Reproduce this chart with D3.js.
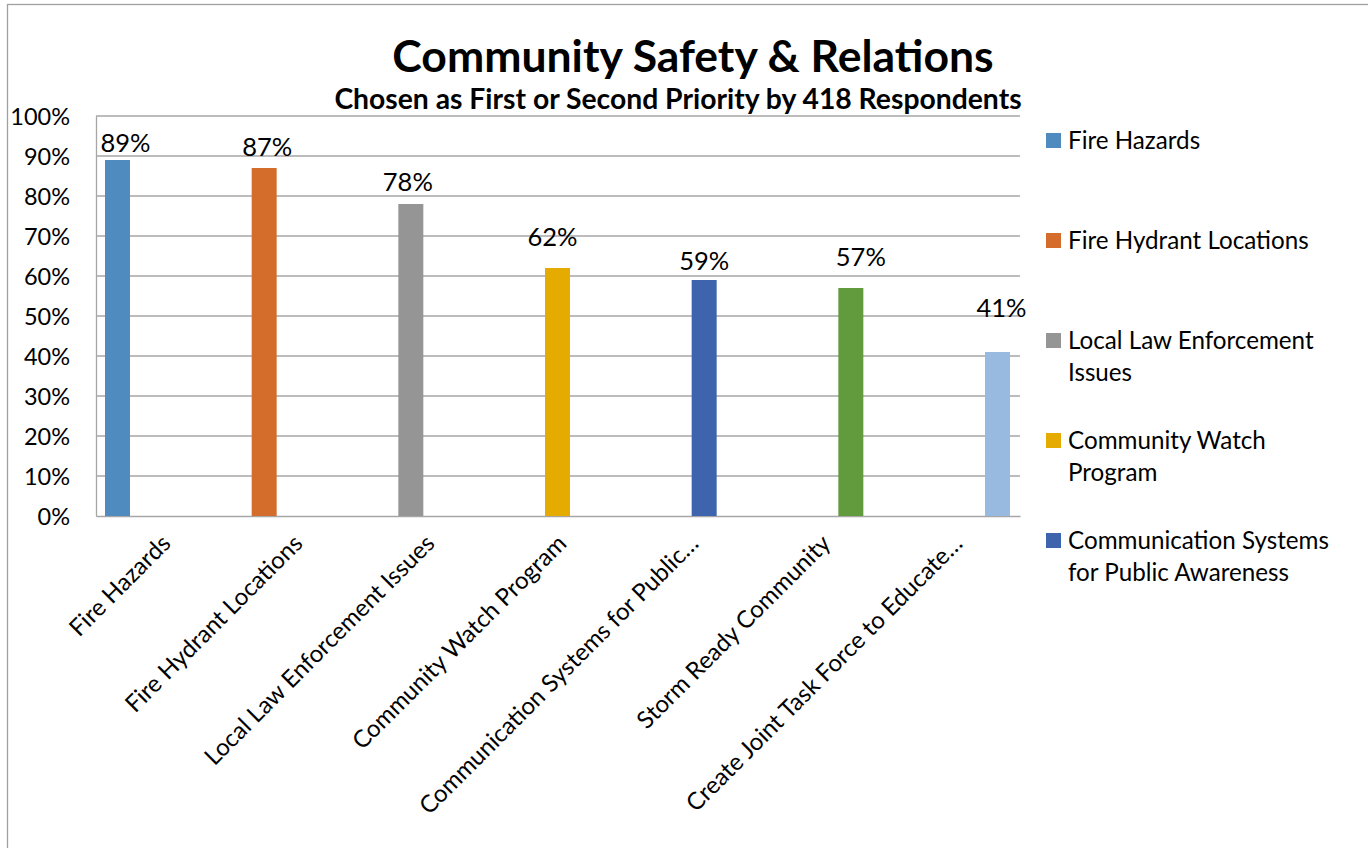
<!DOCTYPE html>
<head>
    <script src="https://d3js.org/d3.v7.min.js"></script>
    <style>
      body { margin: 0; background: #fff; }
      text { font-family: Lato, "Open Sans", sans-serif; fill: #000; }
    </style>
</head>

<body>
    <div id="chart"></div>
</body>

<script>

  // categories / series (each category carries one series)
  const categories = ["Fire Hazards", "Fire Hydrant Locations", "Local Law Enforcement Issues",
    "Community Watch Program", "Communication Systems for Public Awareness",
    "Storm Ready Community", "Create Joint Task Force to Educate"];
  const tickLabels = ["Fire Hazards", "Fire Hydrant Locations", "Local Law Enforcement Issues",
    "Community Watch Program", "Communication Systems for Public…",
    "Storm Ready Community", "Create Joint Task Force to Educate…"];
  const values = [0.89, 0.87, 0.78, 0.62, 0.59, 0.57, 0.41];
  const legendLabels = [["Fire Hazards"], ["Fire Hydrant Locations"], ["Local Law Enforcement", "Issues"],
    ["Community Watch", "Program"], ["Communication Systems", "for Public Awareness"]];
  const yTicks = [0, 0.1, 0.2, 0.3, 0.4, 0.5, 0.6, 0.7, 0.8, 0.9, 1.0];

  const colors = ["#4f8bbf", "#d46d2b", "#959595", "#e5ab00", "#3d64ad", "#629a3e", "#98b9e0"];
  // the value labels were nudged by hand in the original chart
  const labelDx = [8, 3, -3, -5, 0, 10, 4];
  const labelDy = [8, 12, 13, 22, 10, 22, 35];

  const W = 1368, H = 848;
  const plot = {left: 96, right: 1020, top: 116, bottom: 516};

  const svg = d3.select("#chart").append("svg")
    .attr("width", W).attr("height", H);

  // outer chart border
  svg.append("rect")
    .attr("x", 7.5).attr("y", 4.5)
    .attr("width", 1380).attr("height", 900)
    .attr("fill", "none").attr("stroke", "#a0a0a0").attr("stroke-width", 1.3);

  const x = d3.scaleBand()
    .domain(categories)
    .range([plot.left, plot.right]);

  // position of each series inside a category slot
  const xs = d3.scalePoint()
    .domain(categories)
    .range([9, 97]);
  const barW = 25;

  const y = d3.scaleLinear()
    .domain([0, 1])
    .range([plot.bottom, plot.top]);

  // gridlines
  svg.append("g")
    .selectAll("line")
    .data(yTicks.slice(1))
    .join("line")
    .attr("x1", plot.left).attr("x2", plot.right)
    .attr("y1", d => y(d)).attr("y2", d => y(d))
    .attr("stroke", "#a6a6a6").attr("stroke-width", 1.3);

  // Y axis
  const yAxis = svg.append("g")
    .attr("transform", `translate(${plot.left}, 0)`)
    .call(d3.axisLeft(y).tickValues(yTicks).tickFormat(d3.format(".0%")).tickSize(0).tickPadding(26));
  yAxis.select(".domain").attr("stroke", "#a6a6a6").attr("stroke-width", 1.3);
  yAxis.selectAll("text").style("font-size", "23.5px").attr("dy", "0.35em");

  // X axis
  const xAxis = svg.append("g")
    .attr("transform", `translate(0, ${plot.bottom})`)
    .call(d3.axisBottom(x).tickSize(0).tickFormat((d, i) => tickLabels[i]));
  xAxis.select(".domain").attr("stroke", "#a6a6a6").attr("stroke-width", 1.3);
  xAxis.selectAll("text")
    .style("font-size", "24px")
    .attr("text-anchor", "end")
    .attr("y", 0).attr("dy", 0)
    .attr("transform", "translate(10, 29) rotate(-45)");

  // Bars
  svg.append("g")
    .selectAll("rect")
    .data(values)
    .join("rect")
    .attr("x", (d, i) => x(categories[i]) + xs(categories[i]))
    .attr("y", d => y(d))
    .attr("width", barW)
    .attr("height", d => y(0) - y(d))
    .attr("fill", (d, i) => colors[i]);

  // value labels
  svg.append("g")
    .selectAll("text")
    .data(values)
    .join("text")
    .attr("x", (d, i) => x(categories[i]) + xs(categories[i]) + barW / 2 + labelDx[i])
    .attr("y", (d, i) => y(d) - labelDy[i])
    .attr("text-anchor", "middle")
    .style("font-size", "25.5px")
    .text(d => d3.format(".0%")(d));

  // Title
  svg.append("text")
    .attr("x", 693).attr("y", 72)
    .attr("text-anchor", "middle")
    .style("font-size", "44.5px").style("font-weight", "bold")
    .text("Community Safety & Relations");
  svg.append("text")
    .attr("x", 678).attr("y", 109)
    .attr("text-anchor", "middle")
    .style("font-size", "28.3px").style("font-weight", "bold")
    .text("Chosen as First or Second Priority by 418 Respondents");

  // Legend
  const legend = svg.append("g")
    .selectAll("g")
    .data(legendLabels)
    .join("g")
    .attr("transform", (d, i) => `translate(1046, ${133 + i * 100})`);
  legend.append("rect")
    .attr("width", 15).attr("height", 15)
    .attr("fill", (d, i) => colors[i]);
  legend.append("text")
    .attr("x", 22)
    .style("font-size", "24.2px")
    .selectAll("tspan")
    .data(d => d)
    .join("tspan")
    .attr("x", 22)
    .attr("y", (d, i) => 16 + i * 32)
    .text(d => d);

</script>
